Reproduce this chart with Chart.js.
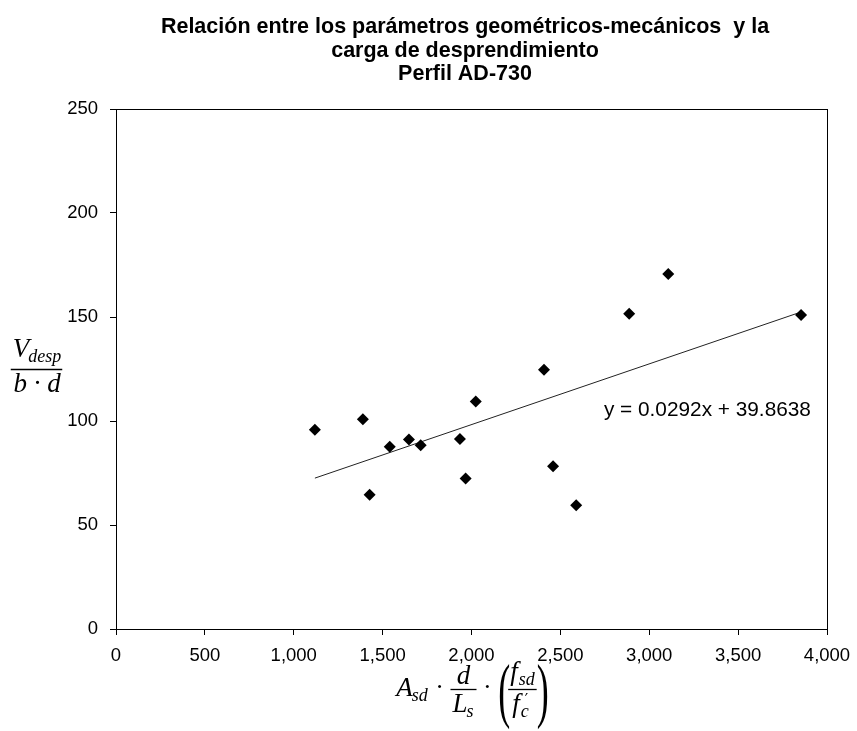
<!DOCTYPE html>
<html>
<head>
<meta charset="utf-8">
<script src="https://cdn.jsdelivr.net/npm/chart.js@4"></script>
<style>
  html, body { margin: 0; padding: 0; background: #fff; }
  canvas { display: block; }
</style>
</head>
<body>
<canvas id="chart" width="857" height="731"></canvas>
<script>
// Profile AD-730: geometric-mechanical parameter vs. detachment load
const paramX = [1119, 1389, 1427, 1540, 1648, 1714, 1935, 1967, 2024, 2408, 2459, 2589, 2887, 3107, 3854];
const loadY  = [95.8, 100.9, 64.5, 87.6, 91.1, 88.4, 91.4, 72.3, 109.4, 124.6, 78.3, 59.5, 151.6, 170.7, 151.0];

// Linear regression fitted to the points above
const trendSlope = 0.0292;
const trendIntercept = 39.8638;

const titleLines = [
  'Relación entre los parámetros geométricos-mecánicos  y la',
  'carga de desprendimiento',
  'Perfil AD-730'
];
const xTickValues = [0, 500, 1000, 1500, 2000, 2500, 3000, 3500, 4000];
const yTickValues = [0, 50, 100, 150, 200, 250];

const points = paramX.map((x, i) => ({ x: x, y: loadY[i] }));
const xMin = Math.min(...paramX), xMax = Math.max(...paramX);
const trendPoints = [
  { x: xMin, y: trendSlope * xMin + trendIntercept },
  { x: xMax, y: trendSlope * xMax + trendIntercept }
];
const equationText = 'y = ' + trendSlope.toFixed(4) + 'x + ' + trendIntercept.toFixed(4);

const SANS = '"Liberation Sans", Arial, sans-serif';
const SERIF = '"Liberation Serif", "Times New Roman", serif';

function itFont(size) { return 'italic ' + size + 'px ' + SERIF; }
function rmFont(size) { return size + 'px ' + SERIF; }

// Chart title, frame, equation and the two formula axis titles
const decorations = {
  id: 'decorations',
  afterDatasetsDraw(chart) {
    const ctx = chart.ctx;
    const a = chart.chartArea;
    const xs = chart.scales.x, ys = chart.scales.y;

    // frame round the plot area
    ctx.save();
    ctx.strokeStyle = '#000';
    ctx.lineWidth = 1;
    ctx.strokeRect(Math.round(a.left) + 0.5, Math.round(a.top) + 0.5,
                   Math.round(a.right - a.left), Math.round(a.bottom - a.top));
    ctx.restore();

    // title
    ctx.save();
    ctx.fillStyle = '#000';
    ctx.font = 'bold 21.5px ' + SANS;
    ctx.textAlign = 'center';
    ctx.textBaseline = 'middle';
    const titleY = [27, 51, 74];
    titleLines.forEach((t, i) => ctx.fillText(t, 465, titleY[i]));
    ctx.restore();

    // regression equation
    ctx.save();
    ctx.fillStyle = '#000';
    ctx.font = '20.8px ' + SANS;
    ctx.textAlign = 'left';
    ctx.textBaseline = 'middle';
    ctx.fillText(equationText, xs.getPixelForValue(2745), ys.getPixelForValue(105.3));
    ctx.restore();

    drawYTitle(ctx, 37, ys.getPixelForValue(125));
    drawXTitle(ctx, (a.left + a.right) / 2, 689);
  }
};

function bar(ctx, x1, x2, y) {
  ctx.beginPath();
  ctx.moveTo(x1, y);
  ctx.lineTo(x2, y);
  ctx.lineWidth = 1.3;
  ctx.strokeStyle = '#000';
  ctx.stroke();
}

// V_desp over b·d
function drawYTitle(ctx, cx, barY) {
  ctx.save();
  ctx.fillStyle = '#000';
  ctx.textBaseline = 'alphabetic';
  ctx.textAlign = 'left';
  ctx.font = itFont(27);
  const wV = ctx.measureText('V').width;
  ctx.font = itFont(18);
  const wSub = ctx.measureText('desp').width;
  const wNum = wV + wSub - 1;
  const x0 = cx - wNum / 2;
  ctx.font = itFont(27);
  ctx.fillText('V', x0, barY - 12);
  ctx.font = itFont(18);
  ctx.fillText('desp', x0 + wV - 1, barY - 7);
  bar(ctx, x0 - 2, x0 + wNum + 1, barY + 0.5);
  ctx.font = itFont(27);
  ctx.textAlign = 'center';
  ctx.fillText('b · d', cx, barY + 23);
  ctx.restore();
}

// A_sd · d/L_s · (f_sd / f'_c)
function drawXTitle(ctx, cx, barY) {
  ctx.save();
  ctx.fillStyle = '#000';
  ctx.textBaseline = 'alphabetic';
  ctx.textAlign = 'left';
  const m = (font, t) => { ctx.font = font; return ctx.measureText(t).width; };

  const wA = m(itFont(27), 'A'), wsd = m(itFont(18), 'sd');
  const wDot = m(rmFont(26), ' · ');
  const wd = m(itFont(27), 'd'), wL = m(itFont(27), 'L'), ws = m(itFont(18), 's');
  const f1 = Math.max(wd, wL + ws) + 4;
  const wf = m(itFont(27), 'f');
  const wNum2 = wf + wsd + 1;
  const wcc = m(itFont(18), 'c');
  const wDen2 = wf + wcc + 5;
  const f2 = Math.max(wNum2, wDen2) + 4;
  const wPar = 10;
  const total = wA + wsd + wDot + f1 + wDot + wPar + f2 + wPar;

  let x = cx - total / 2;
  const base = barY + 7;

  ctx.font = itFont(27); ctx.fillText('A', x, base); x += wA;
  ctx.font = itFont(18); ctx.fillText('sd', x - 1, base + 5); x += wsd;
  ctx.font = rmFont(26); ctx.fillText(' · ', x, base - 1); x += wDot;

  // d / L_s
  bar(ctx, x, x + f1, barY + 0.5);
  ctx.font = itFont(27); ctx.fillText('d', x + (f1 - wd) / 2, barY - 5);
  const lx = x + (f1 - wL - ws) / 2;
  ctx.fillText('L', lx, barY + 23);
  ctx.font = itFont(18); ctx.fillText('s', lx + wL - 1, barY + 28);
  x += f1;

  ctx.font = rmFont(26); ctx.fillText(' · ', x, base - 1); x += wDot;

  // tall parentheses
  const parens = (ch, px) => {
    ctx.save();
    ctx.font = '300 72px ' + SERIF;
    ctx.translate(px, barY + 25);
    ctx.scale(0.5, 1);
    ctx.fillText(ch, 0, 0);
    ctx.restore();
  };
  parens('(', x); x += wPar;

  // f_sd / f'_c
  bar(ctx, x, x + f2, barY + 0.5);
  const nx = x + (f2 - wNum2) / 2;
  ctx.font = itFont(27); ctx.fillText('f', nx, barY - 9);
  ctx.font = itFont(18); ctx.fillText('sd', nx + wf + 1, barY - 4);
  const dx = x + (f2 - wDen2) / 2;
  ctx.font = itFont(27); ctx.fillText('f', dx, barY + 23);
  ctx.font = itFont(18); ctx.fillText('c', dx + wf + 1, barY + 28);
  ctx.font = '15px "DejaVu Sans", sans-serif'; ctx.fillText('\u2032', dx + wf + 5, barY + 16);
  x += f2;

  parens(')', x);
  ctx.restore();
}

new Chart(document.getElementById('chart'), {
  data: {
    datasets: [
      {
        type: 'scatter',
        label: 'Datos',
        data: points,
        pointStyle: 'rectRot',
        pointRadius: 6,
        pointHoverRadius: 6,
        backgroundColor: '#000',
        borderColor: '#000',
        borderWidth: 0,
        order: 0
      },
      {
        type: 'line',
        label: 'Tendencia lineal',
        data: trendPoints,
        borderColor: '#222',
        borderWidth: 1,
        pointRadius: 0,
        fill: false,
        order: 1
      }
    ]
  },
  options: {
    responsive: false,
    animation: false,
    layout: { padding: { top: 109, left: 0, right: 30, bottom: 0 } },
    plugins: {
      legend: { display: false },
      title: { display: false },
      tooltip: { enabled: false }
    },
    scales: {
      x: {
        type: 'linear',
        min: 0,
        max: 4000,
        afterFit: s => { s.height = 102; s.paddingLeft = 0; s.paddingRight = 0; },
        afterBuildTicks: s => { s.ticks = xTickValues.map(v => ({ value: v })); },
        border: { display: false },
        grid: { display: true, drawOnChartArea: false, drawTicks: true, tickLength: 6, color: '#000' },
        ticks: {
          color: '#000',
          padding: 10,
          maxRotation: 0,
          font: { family: SANS, size: 18.5 },
          callback: v => v.toLocaleString('en-US')
        }
      },
      y: {
        type: 'linear',
        min: 0,
        max: 250,
        afterFit: s => { s.width = 116; s.paddingTop = 0; s.paddingBottom = 0; },
        afterBuildTicks: s => { s.ticks = yTickValues.map(v => ({ value: v })); },
        border: { display: false },
        grid: { display: true, drawOnChartArea: false, drawTicks: true, tickLength: 6, color: '#000' },
        ticks: {
          color: '#000',
          padding: 12,
          font: { family: SANS, size: 18.5 },
          callback: v => String(v)
        }
      }
    }
  },
  plugins: [decorations]
});
</script>
</body>
</html>
